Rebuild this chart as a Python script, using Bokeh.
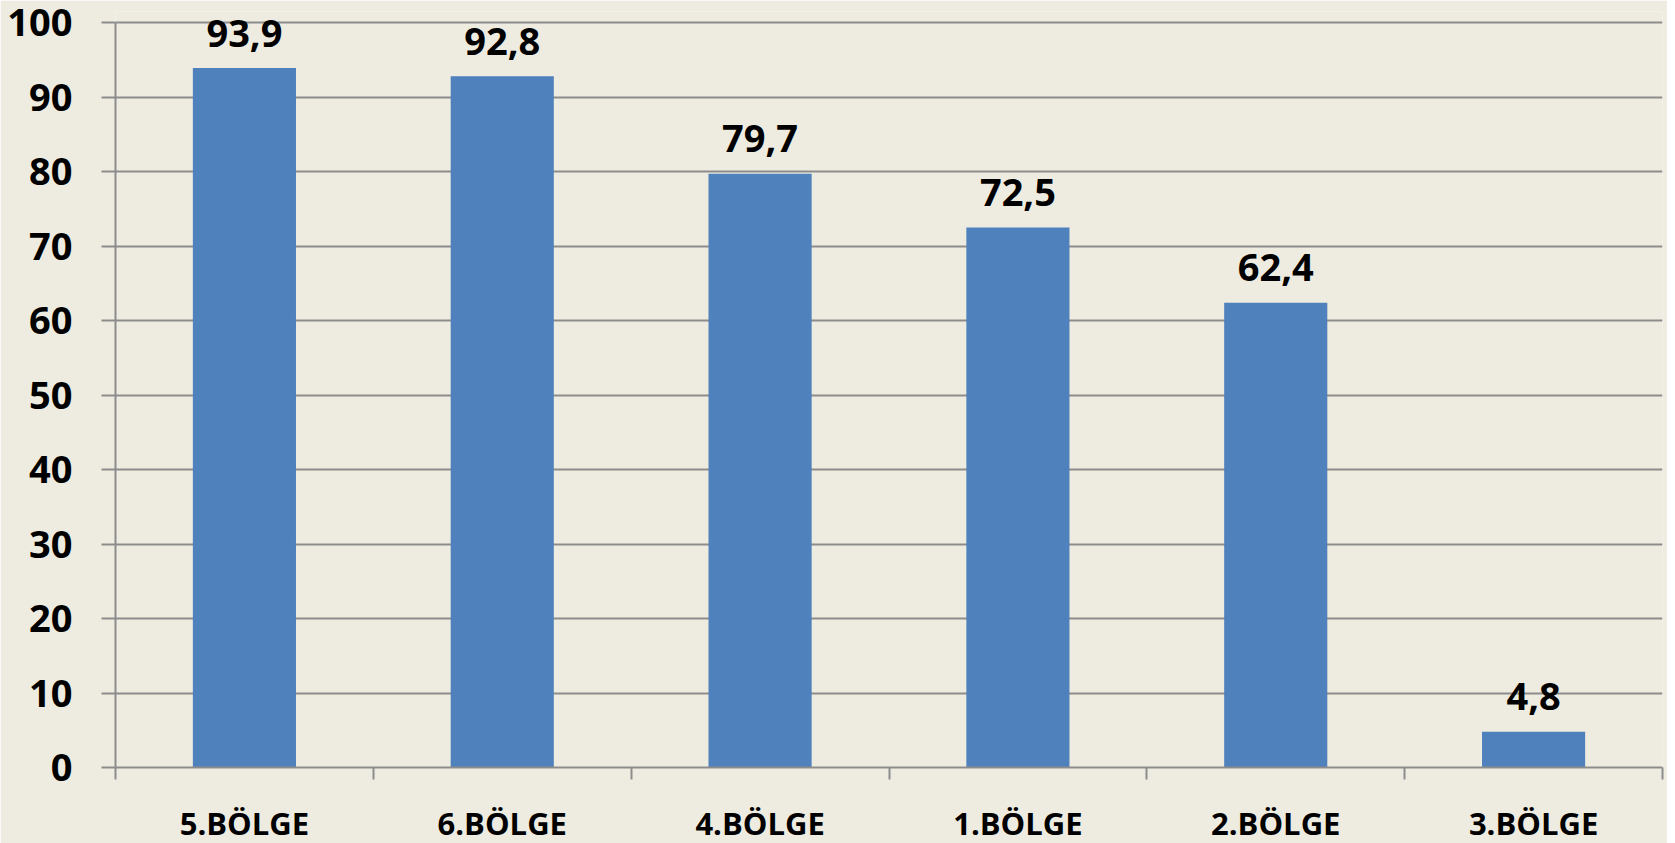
from bokeh.plotting import figure
from bokeh.models import ColumnDataSource, Range1d, FixedTicker
from bokeh.core.properties import value
from bokeh.embed import file_html
from bokeh.resources import INLINE

categories = ["5.BÖLGE", "6.BÖLGE", "4.BÖLGE", "1.BÖLGE", "2.BÖLGE", "3.BÖLGE"]
values = [93.9, 92.8, 79.7, 72.5, 62.4, 4.8]
y_ticks = [0, 10, 20, 30, 40, 50, 60, 70, 80, 90, 100]

xs = [i + 0.5 for i in range(len(categories))]
labels = [f"{v:.1f}".replace(".", ",") for v in values]
src = ColumnDataSource(dict(x=xs, top=values, label=labels))

BG = "#EEECE1"
GRAY = "#8C8C8C"
FONT = "Open Sans"

p = figure(frame_width=1547, frame_height=756,
           x_range=Range1d(0, len(categories)), y_range=Range1d(0, 101.5),
           output_backend="svg", toolbar_location=None,
           min_border_left=115, min_border_top=11, min_border_right=5,
           min_border_bottom=70)
p.background_fill_color = BG
p.border_fill_color = BG
p.outline_line_color = None

p.vbar(x="x", top="top", width=0.4, source=src, fill_color="#4F81BD", line_color=None)
p.text(x="x", y="top", text="label", source=src, text_align="center",
       text_baseline="alphabetic", y_offset=-35, text_font=value(FONT),
       text_font_style="bold", text_font_size="38px", text_color="black")

# y axis
p.yaxis.ticker = FixedTicker(ticks=y_ticks)
p.yaxis.bounds = (0, 100)
p.yaxis.axis_line_color = GRAY
p.yaxis.axis_line_width = 2
p.yaxis.major_tick_line_color = GRAY
p.yaxis.major_tick_line_width = 2
p.yaxis.major_tick_out = 14
p.yaxis.major_tick_in = 0
p.yaxis.minor_tick_line_color = None
p.yaxis.major_label_standoff = 29
p.yaxis.major_label_text_font = FONT
p.yaxis.major_label_text_font_style = "bold"
p.yaxis.major_label_text_font_size = "38px"
p.yaxis.major_label_text_color = "black"

# x axis: labels at centers, boundary ticks as minor ticks
p.xaxis.ticker = FixedTicker(ticks=xs, minor_ticks=list(range(len(categories) + 1)))
p.xaxis.major_label_overrides = {x: c for x, c in zip(xs, categories)}
p.xaxis.axis_line_color = GRAY
p.xaxis.axis_line_width = 2
p.xaxis.major_tick_line_color = None
p.xaxis.minor_tick_line_color = GRAY
p.xaxis.minor_tick_line_width = 2
p.xaxis.minor_tick_out = 12
p.xaxis.minor_tick_in = 0
p.xaxis.major_label_standoff = 22
p.xaxis.major_label_text_font = FONT
p.xaxis.major_label_text_font_style = "bold"
p.xaxis.major_label_text_font_size = "31px"
p.xaxis.major_label_text_color = "black"

p.xgrid.grid_line_color = None
p.ygrid.ticker = FixedTicker(ticks=y_ticks)
p.ygrid.grid_line_color = GRAY
p.ygrid.grid_line_width = 2

open("out.html", "w").write(file_html(p, INLINE))
